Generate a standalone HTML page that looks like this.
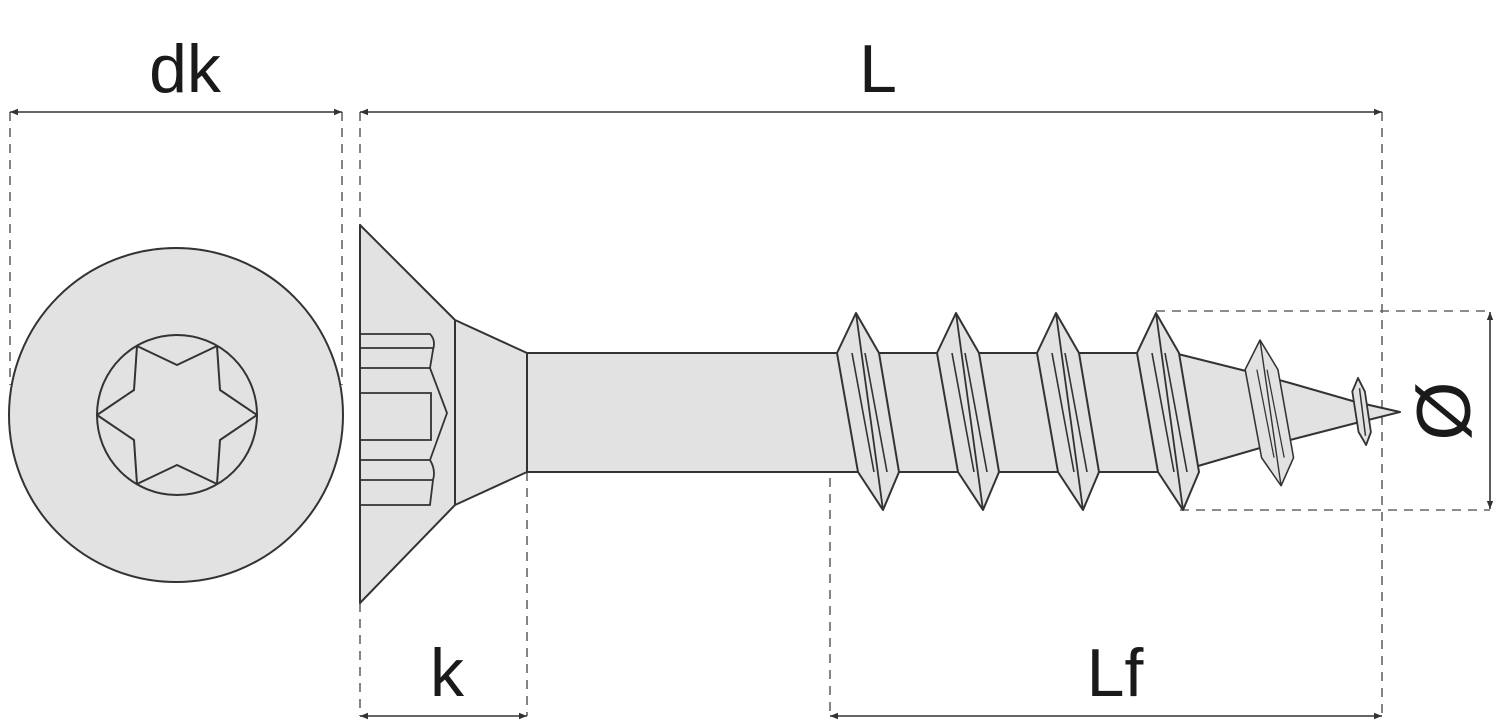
<!DOCTYPE html>
<html><head><meta charset="utf-8"><style>
html,body{margin:0;padding:0;background:#fff;}
svg{display:block}
text{font-family:"Liberation Sans",sans-serif;fill:#1a1a1a}
</style></head><body>
<svg width="1500" height="723" viewBox="0 0 1500 723" xmlns="http://www.w3.org/2000/svg">
<defs>
<marker id="a" viewBox="0 0 10 10" refX="10" refY="5" markerWidth="10" markerHeight="8" orient="auto-start-reverse" markerUnits="userSpaceOnUse"><path d="M0,1 L10,5 L0,9 z" fill="#333"/></marker>
<g id="th">
<polygon points="0,0 -19,40 2,159 27,197 43,159 23,40" fill="#e2e2e2" stroke="#333" stroke-width="2" stroke-linejoin="round"/>
<line x1="0" y1="0" x2="27" y2="197" stroke="#333" stroke-width="1.8"/>
<line x1="-4" y1="40" x2="18" y2="159" stroke="#333" stroke-width="1.6"/>
<line x1="9" y1="40" x2="31" y2="159" stroke="#333" stroke-width="1.6"/>
</g>
</defs>
<g stroke="#666" stroke-width="1.6" stroke-dasharray="9,7" fill="none">
<line x1="10" y1="112" x2="10" y2="385"/>
<line x1="342" y1="112" x2="342" y2="385"/>
<line x1="360" y1="112" x2="360" y2="225"/>
<line x1="360" y1="603" x2="360" y2="716"/>
<line x1="527" y1="472" x2="527" y2="716"/>
<line x1="830" y1="478" x2="830" y2="716"/>
<line x1="1382" y1="112" x2="1382" y2="716"/>
<line x1="1156" y1="311" x2="1490" y2="311"/>
<line x1="1180" y1="510" x2="1490" y2="510"/>
</g>
<g stroke="#333" stroke-width="1.6">
<line x1="10" y1="112" x2="342" y2="112" marker-start="url(#a)" marker-end="url(#a)"/>
<line x1="360" y1="112" x2="1382" y2="112" marker-start="url(#a)" marker-end="url(#a)"/>
<line x1="360" y1="716" x2="527" y2="716" marker-start="url(#a)" marker-end="url(#a)"/>
<line x1="830" y1="716" x2="1382" y2="716" marker-start="url(#a)" marker-end="url(#a)"/>
<line x1="1490" y1="312" x2="1490" y2="509" marker-start="url(#a)" marker-end="url(#a)"/>
</g>
<circle cx="176" cy="415" r="167" fill="#e2e2e2" stroke="#333" stroke-width="2"/>
<circle cx="177" cy="415" r="80" fill="#e2e2e2" stroke="#333" stroke-width="2"/>
<polygon points="257,415 220,390 217,346 177,365 137,346 134,390 97,415 134,440 137,484 177,465 217,484 220,440" fill="#e2e2e2" stroke="#333" stroke-width="2" stroke-linejoin="round"/>
<polygon points="360,225 455,320 527,353 527,472 455,505 360,603" fill="#e2e2e2" stroke="#333" stroke-width="2" stroke-linejoin="round"/>
<line x1="455" y1="320" x2="455" y2="505" stroke="#333" stroke-width="2"/>
<g stroke="#333" stroke-width="1.8" fill="none">
<path d="M360,334 H430 Q436,340 433,350 L430,368 H360"/>
<line x1="360" y1="348" x2="433" y2="348"/>
<path d="M360,393 H431 V440 H360"/>
<path d="M430,368 L447,413 L430,460"/>
<path d="M360,460 H430 Q436,470 433,480 L430,505 H360"/>
<line x1="360" y1="480" x2="433" y2="480"/>
</g>
<rect x="527" y="353" width="640" height="119" fill="#e2e2e2" stroke="#333" stroke-width="2"/>
<polygon points="1165,354 1178,354 1250,372 1290,383 1356,402 1400,412 1356,423 1290,440 1260,448 1198,466 1180,472 1165,472" fill="#e2e2e2" stroke="#333" stroke-width="2" stroke-linejoin="round"/>
<use href="#th" x="856" y="313"/>
<use href="#th" x="956" y="313"/>
<use href="#th" x="1056" y="313"/>
<use href="#th" x="1156" y="313"/>
<g transform="translate(1260,340) scale(0.78,0.74)"><use href="#th"/></g>
<g transform="translate(1358,378) scale(0.3,0.34)">
<polygon points="0,0 -19,40 2,159 27,197 43,159 23,40" fill="#e2e2e2" stroke="#333" stroke-width="6" stroke-linejoin="round"/>
<line x1="5" y1="30" x2="25" y2="170" stroke="#333" stroke-width="5"/>
</g>
<text x="185" y="92" font-size="68" text-anchor="middle">dk</text>
<text x="878" y="92" font-size="68" text-anchor="middle">L</text>
<text x="447" y="696" font-size="68" text-anchor="middle">k</text>
<text x="1115" y="696" font-size="68" text-anchor="middle">Lf</text>
<text x="0" y="0" font-size="76" text-anchor="middle" transform="translate(1470,411) rotate(-90)">Ø</text>
</svg>
</body></html>
